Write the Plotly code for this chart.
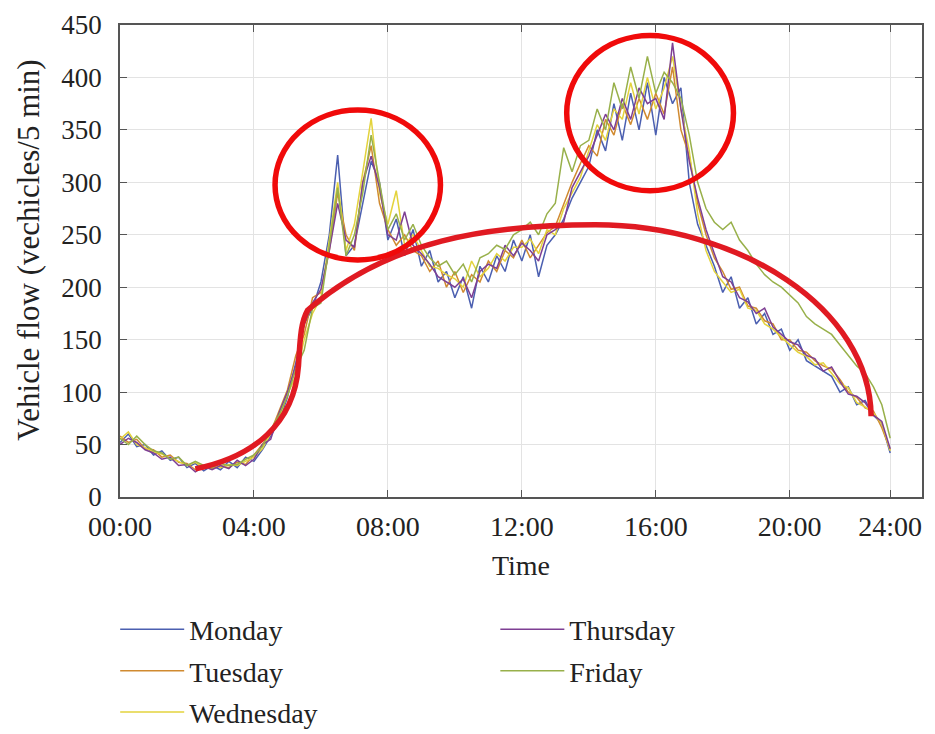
import plotly.graph_objects as go

# Sample positions on the time axis (hours on the plotted axis), 15-min steps
N_STEPS = 93
TIMES = [i * 0.25 for i in range(N_STEPS)]

TICK_VALS = [0, 4, 8, 12, 16, 20, 23]
TICK_TEXT = ["00:00", "04:00", "08:00", "12:00", "16:00", "20:00", "24:00"]

MONDAY = [52, 60, 48, 50, 40, 44, 35, 38, 28, 32, 25, 30, 26, 34, 28, 38,
          34, 45, 58, 72, 95, 128, 165, 180, 205, 250, 326, 230, 240, 280, 320, 300,
          245, 265, 230, 255, 220, 235, 205, 215, 190, 210, 180, 220, 205, 230, 215, 245,
          225, 250, 210, 240, 250, 265, 285, 300, 315, 350, 330, 375, 340, 385, 350, 395,
          345, 400, 375, 390, 300, 260, 240, 220, 195, 210, 180, 190, 165, 175, 155, 160,
          140, 150, 130, 125, 120, 115, 100, 105, 88, 92, 78, 70, 42]
TUESDAY = [58, 52, 55, 46, 45, 38, 40, 33, 32, 26, 30, 27, 30, 28, 33, 31,
           40, 50, 62, 82, 102, 135, 155, 190, 195, 235, 290, 250, 235, 300, 335, 280,
           255, 240, 250, 235, 230, 215, 225, 200, 215, 195, 212, 205, 225, 215, 235, 228,
           245, 228, 240, 252, 258, 280, 300, 318, 335, 325, 360, 345, 375, 355, 380, 360,
           385, 365, 410, 350, 325, 280, 250, 228, 215, 198, 200, 182, 180, 168, 165, 150,
           150, 140, 138, 130, 125, 122, 112, 100, 95, 85, 82, 66, 45]
WEDNESDAY = [55, 62, 50, 47, 43, 41, 37, 34, 30, 33, 28, 32, 28, 31, 30, 34,
             38, 46, 60, 75, 98, 115, 150, 175, 190, 245, 300, 235, 260, 310, 361, 290,
             260, 292, 240, 250, 235, 220, 218, 212, 208, 200, 225, 210, 218, 232, 225, 238,
             238, 246, 232, 255, 250, 275, 290, 305, 330, 355, 340, 370, 360, 395, 365, 400,
             370, 390, 420, 370, 330, 270, 235, 215, 205, 195, 198, 180, 178, 165, 160, 152,
             145, 138, 134, 126, 128, 118, 108, 104, 90, 86, 80, 70, 44]
THURSDAY = [50, 56, 52, 45, 42, 36, 38, 30, 31, 24, 29, 26, 30, 27, 35, 30,
            36, 50, 55, 80, 100, 125, 165, 185, 198, 235, 280, 245, 238, 300, 325, 295,
            250, 245, 272, 240, 232, 222, 210, 205, 200, 208, 190, 215, 222, 218, 240, 230,
            242, 235, 225, 250, 255, 262, 295, 310, 325, 345, 365, 350, 380, 360, 390, 375,
            380, 360, 433, 370, 320, 285, 255, 232, 210, 205, 190, 186, 175, 180, 162, 155,
            148, 145, 135, 132, 120, 124, 110, 98, 96, 90, 78, 72, 46]
FRIDAY = [56, 50, 58, 50, 44, 42, 36, 38, 30, 34, 30, 28, 32, 30, 31, 36,
          40, 48, 64, 78, 96, 122, 140, 180, 185, 240, 295, 230, 250, 290, 345, 300,
          255, 270, 245, 260, 240, 228, 220, 225, 212, 222, 205, 228, 232, 240, 236, 250,
          255, 262, 250, 270, 280, 333, 310, 335, 340, 370, 350, 395, 370, 410, 380, 420,
          385, 405, 395, 380, 345, 300, 275, 262, 255, 262, 245, 235, 222, 212, 205, 200,
          192, 185, 172, 165, 160, 155, 145, 135, 125, 118, 105, 88, 56]

SERIES_NAMES = ["Monday", "Tuesday", "Wednesday", "Thursday", "Friday"]
SERIES_VALUES = [MONDAY, TUESDAY, WEDNESDAY, THURSDAY, FRIDAY]
SERIES_COLORS = ["#4b5fb0", "#d08a30", "#e3d33c", "#7e3f93", "#98b04a"]
SERIES_LEGEND = ["legend", "legend", "legend", "legend2", "legend2"]

Y_TITLE = "Vehicle flow (vechicles/5 min)"
X_TITLE = "Time"

# Red hand-drawn annotation: arc as cubic Bezier segments (axis units)
ARC_START = (2.25, 26.8)
ARC_SEGMENTS = [
    ((4.0, 38), (5.2, 70), (5.33, 125)),
    ((5.38, 155), (5.42, 168), (5.6, 178)),
    ((8.0, 245), (11.0, 259.5), (14.2, 259.5)),
    ((18.5, 259.5), (22.4, 180), (22.43, 77)),
]
ELLIPSES = [(4.63, 9.57, 226, 369), (13.34, 18.32, 292, 440)]

FONT = "Liberation Serif"
TXT = "#222222"

fig = go.Figure()
for name, vals, col, lg in zip(SERIES_NAMES, SERIES_VALUES, SERIES_COLORS, SERIES_LEGEND):
    fig.add_trace(go.Scatter(x=TIMES, y=vals, mode="lines", name=name,
                             line=dict(color=col, width=1.5), legend=lg,
                             legendgroup=name))

path = "M {},{}".format(*ARC_START)
for c1, c2, p in ARC_SEGMENTS:
    path += " C {},{} {},{} {},{}".format(*c1, *c2, *p)
fig.add_shape(type="path", xref="x", yref="y", path=path,
              line=dict(color="#e01a22", width=5.5))

for (x0, x1, y0, y1) in ELLIPSES:
    fig.add_shape(type="circle", xref="x", yref="y", x0=x0, x1=x1, y0=y0, y1=y1,
                  line=dict(color="#f00a0a", width=5.5))

axis_common = dict(showline=True, linecolor="#555555", linewidth=1.5, mirror="ticks",
                   ticks="inside", ticklen=7, tickcolor="#555555", tickwidth=1.2,
                   showgrid=True, gridcolor="#e3e3e3", gridwidth=1, zeroline=False,
                   automargin=False)

fig.update_xaxes(range=[0, 23.95], tickvals=TICK_VALS, ticktext=TICK_TEXT,
                 tickfont=dict(family=FONT, size=28, color=TXT),
                 title=dict(text=X_TITLE, font=dict(family=FONT, size=28, color=TXT), standoff=14),
                 ticklabelstandoff=4, **axis_common)
fig.update_yaxes(range=[0, 450], tickvals=list(range(0, 451, 50)),
                 tickfont=dict(family=FONT, size=27, color=TXT),
                 ticklabelstandoff=11, **axis_common)

fig.add_annotation(text=Y_TITLE, textangle=-90, xref="paper", yref="paper",
                   x=-0.1135, y=0.524, xanchor="center", yanchor="middle", showarrow=False,
                   font=dict(family=FONT, size=31, color=TXT))

legend_common = dict(orientation="v", yanchor="top", xanchor="left", tracegroupgap=2,
                     font=dict(family=FONT, size=28, color=TXT), bgcolor="rgba(0,0,0,0)",
                     itemwidth=64)
fig.update_layout(
    width=935, height=734,
    margin=dict(l=112, r=21, t=17, b=245, autoexpand=False),
    paper_bgcolor="white", plot_bgcolor="white",
    font=dict(family=FONT, size=28, color=TXT),
    legend=dict(x=-0.006, y=-0.228, **legend_common),
    legend2=dict(x=0.468, y=-0.228, **legend_common),
)

fig.write_html("out.html")
